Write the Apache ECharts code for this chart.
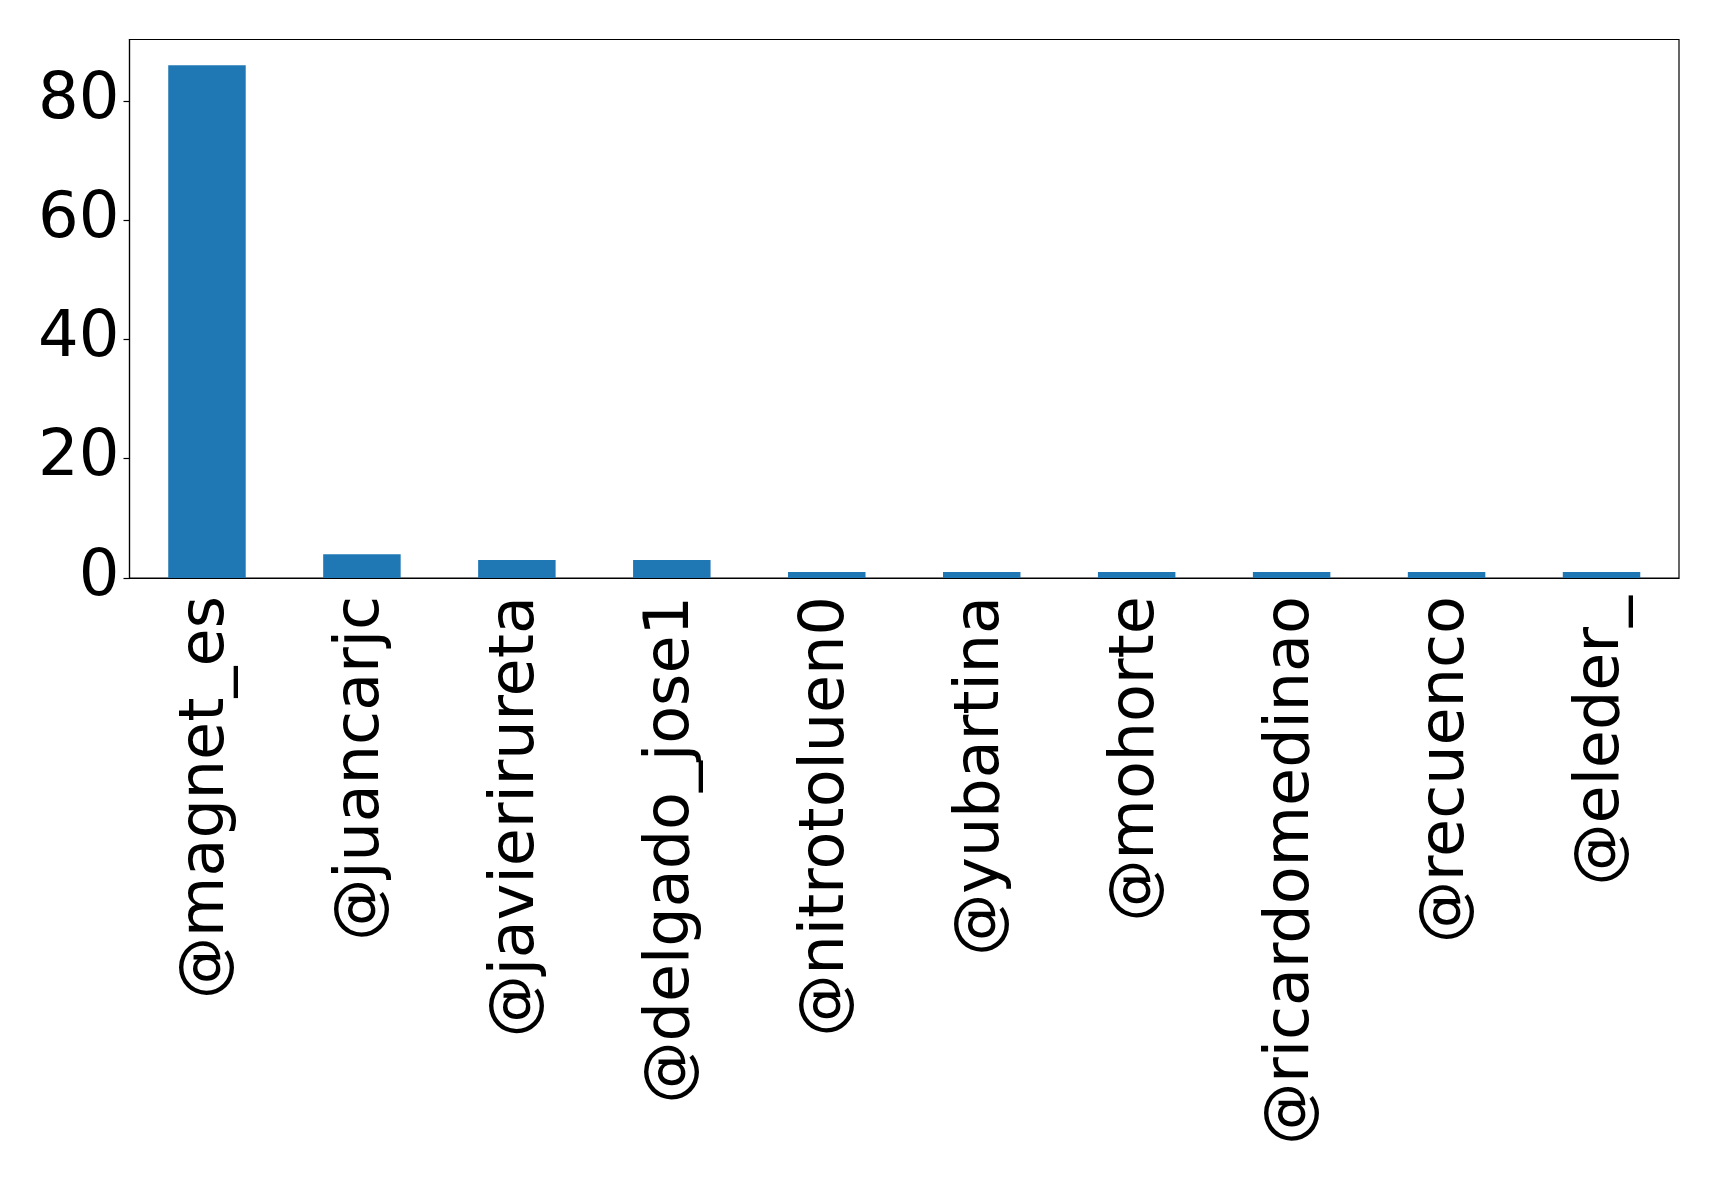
<!DOCTYPE html>
<html>
<head>
<meta charset="utf-8">
<script src="https://cdn.jsdelivr.net/npm/echarts@6/dist/echarts.min.js"></script>
<style>
  html, body { margin: 0; padding: 0; background: #fff; }
  #main { width: 1719px; height: 1181px; }
</style>
</head>
<body>
<div id="main"></div>
<script>
    var users = ['@magnet_es', '@juancarjc', '@javierirureta', '@delgado_jose1', '@nitrotoluen0',
                 '@yubartina', '@mohorte', '@ricardomedinao', '@recuenco', '@eleder_'];
    var counts = [86, 4, 3, 3, 1, 1, 1, 1, 1, 1];
    var yTicks = [0, 20, 40, 60, 80];

    var font = 'DejaVu Sans';
    var myChart = echarts.init(document.getElementById('main'));

    var option = {
        animation: false,
        grid: {
            left: 129.5, top: 39.5, width: 1549.5, height: 538.5,
            show: true, borderColor: '#000', borderWidth: 1.2, backgroundColor: '#fff'
        },
        xAxis: {
            type: 'category',
            data: users,
            axisLine: { lineStyle: { color: '#000', width: 1.2 } },
            axisTick: { alignWithLabel: true, length: 6, lineStyle: { color: '#000', width: 1.2 } },
            axisLabel: {
                rotate: 90, interval: 0, margin: 18,
                fontFamily: font, fontSize: 62, color: '#000'
            },
            splitLine: { show: false }
        },
        yAxis: {
            type: 'value',
            min: 0, max: 90.3,
            axisLine: { show: true, lineStyle: { color: '#000', width: 1.2 } },
            axisTick: { show: true, length: 6, customValues: yTicks, lineStyle: { color: '#000', width: 1.2 } },
            axisLabel: {
                customValues: yTicks, margin: 10, padding: [6, 0, 0, 0],
                fontFamily: font, fontSize: 64, color: '#000'
            },
            splitLine: { show: false }
        },
        series: [{
            type: 'bar',
            data: counts,
            barCategoryGap: '50%',
            itemStyle: { color: '#1f77b4' }
        }]
    };

    myChart.setOption(option);
</script>
</body>
</html>
